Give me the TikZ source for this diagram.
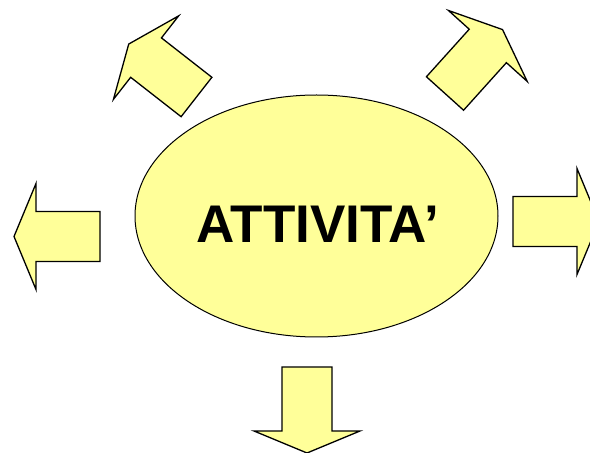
\documentclass[tikz,border=0pt]{standalone}
\usepackage{fontspec}
\setmainfont{Liberation Sans}
\usetikzlibrary{shapes.geometric}
\definecolor{paleyellow}{RGB}{255,255,153}

\tikzset{
  blockarrow/.style={draw=black,fill=paleyellow,line width=1.3pt,line join=miter},
  bubble/.style={draw=black,fill=paleyellow,line width=1pt,shape=ellipse,inner sep=0pt,
    minimum width=363pt,minimum height=242pt}
}

\begin{document}
\begin{tikzpicture}[x=1pt,y=1pt]
	  \clip (0,0) rectangle (590,453);

	  % the five arrows: tail midpoint and direction
	  \foreach \px/\py/\ang in {100/216.5/180, 513/231.5/0, 307/86/270, 196.5/356/142, 445/359.5/48}
	    \draw[blockarrow,shift={(\px,\py)},rotate=\ang]
	      (0,-25) -- (64,-25) -- (64,-53) -- (86,0) -- (64,53) -- (64,25) -- (0,25) -- cycle;

	  \node[bubble] (activity) at (316.5,237) {};
	  \node[font=\fontsize{53}{60}\selectfont\bfseries,anchor=base,inner sep=0pt] (title) at (317.5,210) {ATTIVITA’};
\end{tikzpicture}
\end{document}
